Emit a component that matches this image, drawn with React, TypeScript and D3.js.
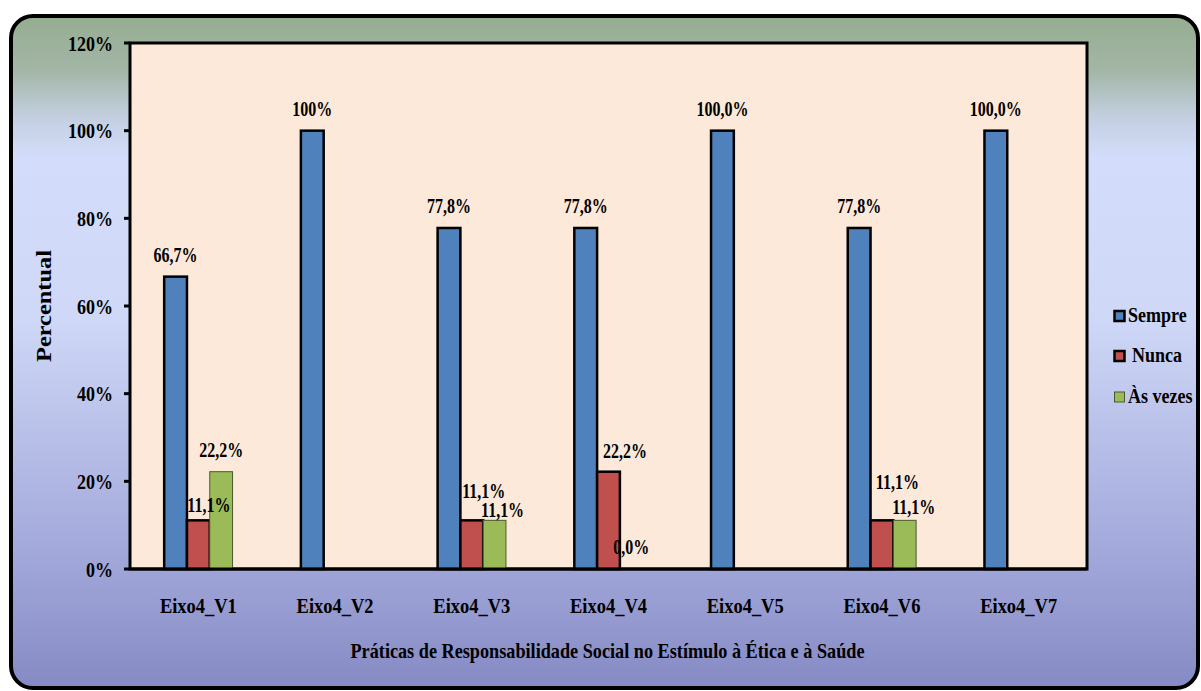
import React from "react";
import * as d3 from "d3";

const categories = ["Eixo4_V1", "Eixo4_V2", "Eixo4_V3", "Eixo4_V4", "Eixo4_V5", "Eixo4_V6", "Eixo4_V7"];
const seriesNames = ["Sempre", "Nunca", "Às vezes"];
const sempre = [66.7, 100, 77.8, 77.8, 100, 77.8, 100];
const nunca: (number | null)[] = [11.1, null, 11.1, 22.2, null, 11.1, null];
const asVezes: (number | null)[] = [22.2, null, 11.1, 0, null, 11.1, null];
const sempreLabels = ["66,7%", "100%", "77,8%", "77,8%", "100,0%", "77,8%", "100,0%"];
const nuncaLabels = ["11,1%", "", "11,1%", "22,2%", "", "11,1%", ""];
const asVezesLabels = ["22,2%", "", "11,1%", "0,0%", "", "11,1%", ""];
const yTicks = [0, 20, 40, 60, 80, 100, 120];
const yTickLabels = ["0%", "20%", "40%", "60%", "80%", "100%", "120%"];

// manual label nudges (dx, dy) per series/category, as placed in the original
const labelNudges: Record<string, [number, number]> = {
  "1-0": [10.5, 7],
  "1-2": [12, -7],
  "2-2": [8, 12],
  "1-3": [16.5, 1],
  "1-5": [15.5, -16],
  "2-5": [9, 9],
};

const W = 1201;
const H = 691;
const plot = { left: 130, right: 1087, top: 43, bottom: 569 };
const colors = ["#4F81BD", "#C0504D", "#9BBB59"];
const strokes = ["#000", "#000", "#4b5a2e"];
const strokeW = [2.5, 2.5, 1];
const FONT = "'Liberation Serif', 'Times New Roman', serif";

function SText({ x, y, sx = 0.82, size, anchor = "middle", children }: any) {
  return (
    <text
      transform={`translate(${x},${y}) scale(${sx},1)`}
      textAnchor={anchor}
      fontFamily={FONT}
      fontWeight="bold"
      fontSize={size}
      fill="#000"
    >
      {children}
    </text>
  );
}

export default function App() {
  const y = d3.scaleLinear().domain([0, 120]).range([plot.bottom, plot.top]);
  const x0 = d3
    .scaleBand<string>()
    .domain(categories)
    .range([plot.left, plot.right])
    .paddingInner(0.5)
    .paddingOuter(0.25);
  const x1 = d3
    .scaleBand<string>()
    .domain(seriesNames)
    .range([0, x0.bandwidth()])
    .padding(0);

  const series = [sempre, nunca, asVezes];
  const labels = [sempreLabels, nuncaLabels, asVezesLabels];

  return (
    <svg
      width={W}
      height={H}
      style={{ position: "absolute", left: 0, top: 0, display: "block" }}
    >
      <defs>
        <linearGradient id="bg" x1="0" y1="0" x2="0" y2="1">
          <stop offset="0" stopColor="#95ad91" />
          <stop offset="0.08" stopColor="#a3b6a6" />
          <stop offset="0.15" stopColor="#c3cfe0" />
          <stop offset="0.21" stopColor="#d3ddfb" />
          <stop offset="0.45" stopColor="#cfd8f7" />
          <stop offset="0.8" stopColor="#a2a8da" />
          <stop offset="1" stopColor="#868ac4" />
        </linearGradient>
      </defs>
      <rect x={0} y={0} width={W} height={H} fill="#fff" />
      <rect
        x={11}
        y={16}
        width={1187}
        height={672}
        rx={22}
        ry={22}
        fill="url(#bg)"
        stroke="#000"
        strokeWidth={4}
      />
      <rect
        x={plot.left}
        y={plot.top}
        width={plot.right - plot.left}
        height={plot.bottom - plot.top}
        fill="#FDE9D9"
        stroke="#000"
        strokeWidth={3}
      />
      {/* y ticks */}
      {yTicks.map((t, i) => (
        <g key={t}>
          <line x1={plot.left - 6} x2={plot.left} y1={y(t)} y2={y(t)} stroke="#000" strokeWidth={3} />
          <SText x={113} y={y(t) + 7.5} size={22} anchor="end">
            {yTickLabels[i]}
          </SText>
        </g>
      ))}
      {/* bars */}
      {categories.map((c, ci) => (
        <g key={c} transform={`translate(${x0(c)},0)`}>
          {series.map((s, si) => {
            const v = s[ci];
            if (v === null || v === undefined) return null;
            const bx = x1(seriesNames[si])!;
            const bw = x1.bandwidth();
            return (
              <rect
                key={si}
                x={bx}
                y={y(v)}
                width={bw}
                height={y(0) - y(v)}
                fill={colors[si]}
                stroke={strokes[si]}
                strokeWidth={strokeW[si]}
              />
            );
          })}
        </g>
      ))}
      <line x1={plot.left} x2={plot.right} y1={plot.bottom} y2={plot.bottom} stroke="#000" strokeWidth={3} />
      {/* data labels */}
      {categories.map((c, ci) =>
        series.map((s, si) => {
          const v = s[ci];
          const lab = labels[si][ci];
          if (v === null || v === undefined || !lab) return null;
          const cx = x0(c)! + x1(seriesNames[si])! + x1.bandwidth() / 2;
          const nudge = labelNudges[`${si}-${ci}`] || [0, 0];
          return (
            <SText key={`${ci}-${si}`} x={cx + nudge[0]} y={y(v) - 15 + nudge[1]} size={20} sx={0.8}>
              {lab}
            </SText>
          );
        })
      )}
      {/* category labels */}
      {categories.map((c) => (
        <SText key={c} x={x0(c)! + x0.bandwidth() / 2} y={613} size={22} sx={0.84}>
          {c}
        </SText>
      ))}
      {/* axis titles */}
      <text
        x={(plot.left + plot.right) / 2 - 1}
        y={658}
        textAnchor="middle"
        fontFamily={FONT}
        fontWeight="bold"
        fontSize={22}
        textLength={514}
        lengthAdjust="spacingAndGlyphs"
      >
        Práticas de Responsabilidade Social no Estímulo à Ética e à Saúde
      </text>
      <text
        transform={`translate(51,306) rotate(-90)`}
        textAnchor="middle"
        fontFamily={FONT}
        fontWeight="bold"
        fontSize={21}
        textLength={112}
        lengthAdjust="spacingAndGlyphs"
      >
        Percentual
      </text>
      {/* legend */}
      {seriesNames.map((n, i) => {
        const ly = [322, 362, 403][i];
        const tx = [1128, 1132, 1128][i];
        return (
          <g key={n}>
            <rect
              x={1114.5}
              y={ly - 11}
              width={10}
              height={10}
              fill={colors[i]}
              stroke={strokes[i]}
              strokeWidth={i === 2 ? 1 : 2.5}
            />
            <SText x={tx} y={ly} size={20} sx={0.9} anchor="start">
              {n}
            </SText>
          </g>
        );
      })}
    </svg>
  );
}
